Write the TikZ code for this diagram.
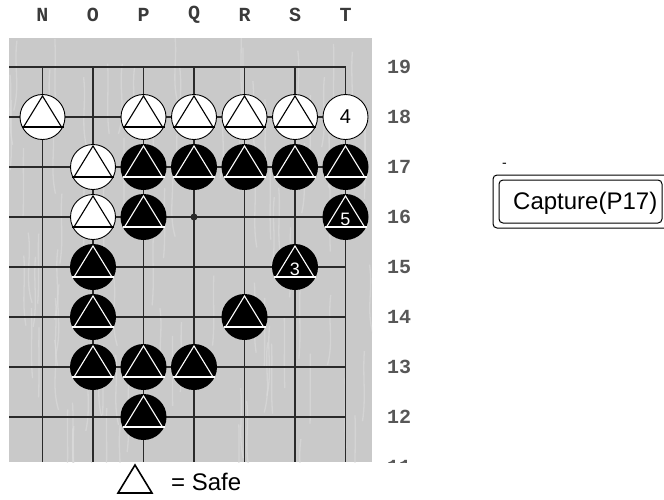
\documentclass[tikz,border=0pt]{standalone}
\usepackage{fontspec}
\setmainfont{Liberation Sans}
\newfontfamily\monof{Liberation Mono}
\definecolor{boardc}{HTML}{C9C9C9}
\definecolor{grainc}{HTML}{DADADA}
\definecolor{gridc}{HTML}{2A2A2A}
\definecolor{labc}{HTML}{3A3A3A}
\begin{document}
\begin{tikzpicture}[x=1pt,y=-1pt,
  wstone/.style={circle,draw=black,fill=white,line width=0.9pt,minimum size=45pt,inner sep=0pt},
  bstone/.style={circle,fill=black,minimum size=46pt,inner sep=0pt},
  gridline/.style={draw=gridc,line width=1.4pt},
  collab/.style={font=\monof\bfseries\fontsize{20}{20}\selectfont,text=labc,inner sep=0pt},
  rowlab/.style={font=\monof\bfseries\fontsize{20}{20}\selectfont,text=labc!85!white,inner sep=0pt},
  stonenum/.style={font=\fontsize{20}{20}\selectfont,inner sep=0pt},
  wtri/.pic={\draw[black,line width=1.1pt,line join=miter] (-19,10) -- (0,-21) -- (19,10);
             \draw[black,line width=1.1pt] (-21,10) -- (21,10);},
  btri/.pic={\draw[white,line width=1.1pt,line join=miter] (-19,10) -- (0,-21) -- (19,10);
             \draw[white,line width=1.1pt] (-21,10) -- (21,10);},
]
\useasboundingbox (0,0) rectangle (664,499);
\clip (0,0) rectangle (664,499);
% board
\fill[boardc] (9,38) rectangle (372,462);
\begin{scope}
\clip (9,38) rectangle (372,462);
\pgfmathsetseed{7}
\foreach \k in {1,...,90}{
  \pgfmathsetmacro{\gx}{10+rnd*360}
  \pgfmathsetmacro{\gy}{20+rnd*420}
  \pgfmathsetmacro{\gw}{rnd*8-4}
  \draw[grainc,line width=1.3pt,opacity=0.7] (\gx,\gy) .. controls (\gx+\gw,\gy+25) and (\gx-\gw,\gy+45) .. (\gx+\gw,\gy+70);
}
\end{scope}
% coordinates
\foreach \c [count=\i from 0] in {N,O,P,Q,R,S,T}{
  \foreach \r in {12,...,19}{
    \coordinate (\c\r) at ({42.5+50.5*\i},{67+50*(19-\r)});
  }
  \coordinate (\c bot) at ({42.5+50.5*\i},462);
}
\foreach \r in {12,...,19}{
  \coordinate (L\r) at (9,{67+50*(19-\r)});
}
% grid
\foreach \r in {12,...,19}{ \draw[gridline] (L\r) -- (T\r); }
\foreach \c in {N,O,P,Q,R,S,T}{ \draw[gridline] (\c19) -- (\c bot); }
\fill[gridc] (Q16) circle (3.5);
% column labels
\foreach \c [count=\i from 0] in {N,O,P,Q,R,S,T}{
  \node[collab] (col\c) at ({42.5+50.5*\i},15) {\c};
}
% row labels
\foreach \r in {12,...,19}{
  \node[rowlab] (row\r) at (399,{67+50*(19-\r)}) {\r};
}
\begin{scope}
  \clip (380,440) rectangle (420,462.5);
  \node[rowlab] (row11) at (399,467) {11};
\end{scope}
% white stones
\foreach \p in {N18,P18,Q18,R18,S18,O17,O16}{
  \node[wstone] (s\p) at (\p) {};
  \pic at (\p) {wtri};
}
\node[wstone] (sT18) at (T18) {};
\node[stonenum,text=black] (n4) at (T18) {4};
% black stones
\foreach \p in {P17,Q17,R17,S17,T17,P16,T16,O15,S15,O14,R14,O13,P13,Q13,P12}{
  \node[bstone] (s\p) at (\p) {};
  \pic at (\p) {btri};
}
\node[stonenum,text=white,font=\fontsize{18}{18}\selectfont] (n5) at ([yshift=-2]T16) {5};
\node[stonenum,text=white,font=\fontsize{18}{18}\selectfont] (n3) at ([yshift=-2]S15) {3};
% capture box
\node[font=\fontsize{24}{24}\selectfont,inner sep=0pt,anchor=west] (cap) at (513,203) {Capture(P17)};
\draw[black,line width=1pt,rounded corners=4pt] (493,175) rectangle (690,228);
\draw[black,line width=1pt,rounded corners=4pt] (499,180) rectangle (662,223);
\node[inner sep=0pt,font=\fontsize{14}{14}\selectfont] (dash) at (504.5,165) {-};
% legend
\coordinate (la) at (135,465);
\draw[black,line width=1.6pt,line join=miter] (118,493) -- (la) -- (152,493) -- cycle;
\node[font=\fontsize{24}{24}\selectfont,inner sep=0pt,anchor=west] (safe) at (171,482) {= Safe};
\end{tikzpicture}
\end{document}
